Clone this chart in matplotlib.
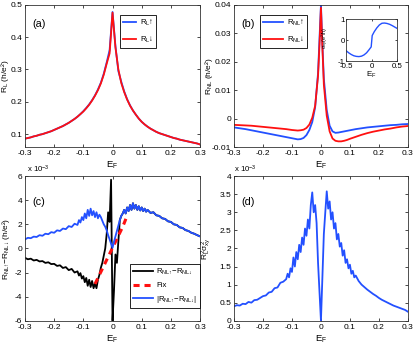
import numpy as np
import matplotlib
matplotlib.use('Agg')
import matplotlib.pyplot as plt
from matplotlib.ticker import FormatStrFormatter

plt.rcParams['font.family'] = ['Liberation Sans', 'DejaVu Sans']
plt.rcParams['axes.unicode_minus'] = False
plt.rcParams['mathtext.fontset'] = 'custom'
plt.rcParams['mathtext.rm'] = 'Liberation Sans'
plt.rcParams['mathtext.it'] = 'Liberation Sans'

BLUE = '#2350ff'
RED = '#ff1010'

# ---- panel (a) : R_L for spin up / down ----
E_a = [-0.30, -0.29, -0.28, -0.27, -0.26, -0.25, -0.24, -0.23, -0.22, -0.21,
       -0.20, -0.19, -0.18, -0.17, -0.16, -0.15, -0.14, -0.13, -0.12, -0.11,
       -0.10, -0.09, -0.08, -0.07, -0.06, -0.05, -0.04, -0.03, -0.02, -0.01,
       0.00, 0.01, 0.02, 0.03, 0.04, 0.05, 0.06, 0.07, 0.08, 0.09,
       0.10, 0.11, 0.12, 0.13, 0.14, 0.15, 0.16, 0.17, 0.18, 0.19,
       0.20, 0.21, 0.22, 0.23, 0.24, 0.25, 0.26, 0.27, 0.28, 0.29, 0.30]
RL_up = [0.086, 0.088, 0.090, 0.093, 0.095, 0.098, 0.100, 0.103, 0.106, 0.109,
         0.113, 0.117, 0.121, 0.125, 0.130, 0.135, 0.141, 0.147, 0.154, 0.162,
         0.171, 0.181, 0.192, 0.205, 0.220, 0.238, 0.259, 0.287, 0.322, 0.360,
         0.478, 0.372, 0.295, 0.262, 0.232, 0.208, 0.189, 0.173, 0.160, 0.148,
         0.138, 0.130, 0.123, 0.117, 0.112, 0.107, 0.103, 0.100, 0.097, 0.094,
         0.091, 0.088, 0.086, 0.083, 0.081, 0.079, 0.077, 0.075, 0.073, 0.071, 0.068]
RL_dn = [0.086, 0.088, 0.090, 0.093, 0.095, 0.098, 0.100, 0.103, 0.106, 0.109,
         0.113, 0.117, 0.121, 0.125, 0.130, 0.135, 0.141, 0.147, 0.154, 0.162,
         0.170, 0.180, 0.191, 0.204, 0.219, 0.236, 0.257, 0.284, 0.318, 0.350,
         0.476, 0.368, 0.300, 0.258, 0.230, 0.207, 0.188, 0.173, 0.160, 0.148,
         0.138, 0.130, 0.123, 0.117, 0.112, 0.107, 0.103, 0.100, 0.097, 0.094,
         0.091, 0.088, 0.086, 0.083, 0.081, 0.079, 0.077, 0.075, 0.073, 0.071, 0.068]

# ---- panel (b) : R_NL for spin up / down ----
E_b = [-0.30, -0.28, -0.26, -0.24, -0.22, -0.20, -0.18, -0.16, -0.14, -0.12,
       -0.10, -0.09, -0.08, -0.07, -0.06, -0.05, -0.04, -0.03, -0.02, -0.01,
       -0.005, 0.0, 0.005, 0.01, 0.02, 0.03, 0.04, 0.05, 0.06, 0.07,
       0.08, 0.09, 0.10, 0.12, 0.14, 0.16, 0.18, 0.20, 0.22, 0.24,
       0.26, 0.28, 0.30]
RNL_up = [-0.0031, -0.0034, -0.0037, -0.0041, -0.0045, -0.0049, -0.0053, -0.0057, -0.0061, -0.0065,
          -0.0069, -0.0071, -0.0073, -0.0072, -0.0068, -0.0058, -0.0040, -0.0012, 0.0040, 0.0160,
          0.0280, 0.0400, 0.0260, 0.0140, 0.0030, -0.0025, -0.0045, -0.0050, -0.0049, -0.0047,
          -0.0045, -0.0043, -0.0041, -0.0037, -0.0034, -0.0031, -0.0029, -0.0027, -0.0025, -0.0023,
          -0.0022, -0.0020, -0.0019]
RNL_dn = [-0.0022, -0.0023, -0.0024, -0.0025, -0.0027, -0.0029, -0.0031, -0.0033, -0.0035, -0.0037,
          -0.0040, -0.0041, -0.0042, -0.0041, -0.0039, -0.0033, -0.0021, 0.0003, 0.0045, 0.0150,
          0.0260, 0.0390, 0.0250, 0.0120, 0.0010, -0.0045, -0.0070, -0.0078, -0.0080, -0.0080,
          -0.0078, -0.0075, -0.0071, -0.0064, -0.0057, -0.0051, -0.0046, -0.0042, -0.0038, -0.0035,
          -0.0031, -0.0028, -0.0026]

# ---- inset of (b) : sigma_xy ----
E_in = [-0.5, -0.45, -0.4, -0.35, -0.3, -0.25, -0.2, -0.15, -0.1, -0.05, -0.01,
        0.0, 0.01, 0.05, 0.1, 0.15, 0.2, 0.25, 0.3, 0.35, 0.4, 0.45, 0.5]
sxy = [-0.50, -0.60, -0.68, -0.74, -0.77, -0.78, -0.76, -0.70, -0.60, -0.45, -0.32,
       -0.05, 0.22, 0.40, 0.58, 0.72, 0.80, 0.81, 0.79, 0.75, 0.69, 0.62, 0.55]

# ---- panels (c) and (d) share one energy grid ----
E_cd = [-0.30, -0.29, -0.28, -0.27, -0.26, -0.25, -0.24, -0.23, -0.22, -0.21,
        -0.20, -0.19, -0.18, -0.17, -0.16, -0.15, -0.14, -0.13,
        -0.120, -0.115, -0.110, -0.105, -0.100, -0.095, -0.090, -0.085, -0.080, -0.075,
        -0.070, -0.065, -0.060, -0.055, -0.050, -0.045, -0.040, -0.035, -0.030, -0.025,
        -0.020, -0.015, -0.010, -0.005, 0.000, 0.005, 0.010, 0.015, 0.020, 0.025,
        0.030, 0.035, 0.040, 0.045, 0.050, 0.055, 0.060, 0.065, 0.070, 0.075,
        0.080, 0.085, 0.090, 0.095, 0.100, 0.105, 0.110, 0.115, 0.120,
        0.13, 0.14, 0.15, 0.16, 0.17, 0.18, 0.19, 0.20, 0.21, 0.22,
        0.23, 0.24, 0.25, 0.26, 0.27, 0.28, 0.29, 0.30]

# R_NL_up - R_NL_down, in units of 1e-3
dR = [-0.78, -0.90, -0.85, -1.00, -0.95, -1.08, -1.05, -1.20, -1.15, -1.30,
      -1.28, -1.45, -1.40, -1.62, -1.55, -1.80, -1.70, -2.00,
      -1.90, -2.25, -2.05, -2.50, -2.30, -2.80, -2.45, -3.10, -2.60, -3.20,
      -2.70, -3.30, -2.90, -3.30, -2.60, -2.20, -1.60, -1.20, -0.60, 0.00,
      1.20, 3.00, 2.20, 5.70, -6.00, -3.50, -0.50, -1.20, 0.60, 2.35,
      2.70, 2.90, 3.20, 2.90, 3.40, 3.10, 3.60, 3.20, 3.75, 3.30,
      3.60, 3.20, 3.50, 3.15, 3.40, 3.10, 3.30, 3.05, 3.20,
      2.95, 3.00, 2.75, 2.70, 2.50, 2.45, 2.25, 2.20, 2.00, 1.95,
      1.75, 1.70, 1.52, 1.45, 1.30, 1.22, 1.10, 1.00]
# |R_NL_up - R_NL_down|, in units of 1e-3
dR_abs = [0.75, 0.88, 0.85, 0.98, 0.95, 1.10, 1.05, 1.22, 1.18, 1.35,
          1.30, 1.50, 1.45, 1.65, 1.60, 1.85, 1.78, 2.05,
          1.95, 2.35, 2.15, 2.60, 2.35, 2.90, 2.50, 3.20, 2.70, 3.30,
          2.75, 3.10, 2.60, 3.00, 2.50, 2.80, 2.60, 2.30, 2.00, 1.80,
          1.50, 1.10, 0.75, 0.40, 0.05, 0.55, 1.00, 1.45, 1.90, 2.35,
          2.70, 2.90, 3.20, 2.90, 3.40, 3.10, 3.60, 3.20, 3.75, 3.30,
          3.60, 3.20, 3.50, 3.15, 3.40, 3.10, 3.30, 3.05, 3.20,
          2.95, 3.00, 2.75, 2.70, 2.50, 2.45, 2.25, 2.20, 2.00, 1.95,
          1.75, 1.70, 1.52, 1.45, 1.30, 1.22, 1.10, 1.00]

E_fix = [-0.06, -0.05, -0.04, -0.03, -0.02, -0.01, 0.0, 0.01, 0.02, 0.03, 0.04, 0.048]
fix = [-2.95, -2.45, -1.95, -1.45, -0.95, -0.45, 0.05, 0.55, 1.05, 1.55, 2.10, 2.60]

# R_L^2 sigma_xy^2, in units of 1e-3
RLsxy = [0.40, 0.43, 0.42, 0.47, 0.46, 0.52, 0.50, 0.57, 0.58, 0.63,
         0.68, 0.70, 0.78, 0.80, 0.90, 0.92, 1.05, 1.08,
         1.15, 1.30, 1.20, 1.45, 1.35, 1.75, 1.50, 1.90, 1.70, 2.10,
         1.90, 2.30, 2.10, 2.55, 2.35, 2.80, 2.55, 3.20, 3.55, 3.00,
         3.20, 2.70, 1.60, 0.80, 0.00, 1.20, 2.40, 3.00, 3.58, 3.10,
         3.30, 2.80, 3.00, 2.55, 2.70, 2.25, 2.40, 2.05, 2.15, 1.80,
         1.95, 1.60, 1.70, 1.45, 1.55, 1.30, 1.38, 1.20, 1.25,
         1.10, 1.00, 0.93, 0.86, 0.80, 0.74, 0.69, 0.63, 0.58, 0.54,
         0.50, 0.46, 0.42, 0.39, 0.36, 0.33, 0.30, 0.25]

FS = 6.0
YFS = 6.0
LFS = 5.6
XT = [-0.3, -0.2, -0.1, 0, 0.1, 0.2, 0.3]
fig = plt.figure(figsize=(4.16, 3.46), dpi=100)


def style(ax, ylx):
    ax.tick_params(direction='in', top=True, right=True, labelsize=FS,
                   length=2.5, width=0.5, pad=2)
    for s in ax.spines.values():
        s.set_linewidth(0.6)
        s.set_color('#333333')
    ax.set_xlim(-0.3, 0.3)
    ax.set_xticks(XT)
    ax.xaxis.set_major_formatter(FormatStrFormatter('%g'))
    ax.yaxis.set_major_formatter(FormatStrFormatter('%g'))
    ax.set_xlabel(r'E$_\mathrm{F}$', fontsize=FS + 0.8)
    ax.xaxis.set_label_coords(0.5, -0.085)
    ax.yaxis.set_label_coords(ylx, 0.5)


def legend(ax, **kw):
    leg = ax.legend(fontsize=LFS, fancybox=False, edgecolor='black', framealpha=1,
                    borderpad=0.35, handletextpad=0.5, borderaxespad=0, **kw)
    leg.get_frame().set_linewidth(0.6)


# (a)
ax = fig.add_axes([0.060, 0.575, 0.421, 0.411])
ax.plot(E_a, RL_up, color=BLUE, lw=1.3, label=r'R$_\mathrm{L}$↑')
ax.plot(E_a, RL_dn, color=RED, lw=1.3, label=r'R$_\mathrm{L}$↓')
ax.set_ylim(0.06, 0.5)
ax.set_yticks([0.1, 0.2, 0.3, 0.4, 0.5])
ax.set_ylabel(r'R$_\mathrm{L}$ (h/e²)', fontsize=YFS)
ax.text(0.04, 0.83, '(a)', transform=ax.transAxes, fontsize=FS + 1.8, va='bottom')
legend(ax, loc='upper right', bbox_to_anchor=(0.75, 0.93), handlelength=1.7,
       labelspacing=0.9)
style(ax, -0.078)

# (b)
ax = fig.add_axes([0.5625, 0.575, 0.418, 0.411])
ax.plot(E_b, RNL_up, color=BLUE, lw=1.3, label=r'R$_\mathrm{NL}$↑')
ax.plot(E_b, RNL_dn, color=RED, lw=1.3, label=r'R$_\mathrm{NL}$↓')
ax.set_ylim(-0.01, 0.04)
ax.set_yticks([-0.01, 0, 0.01, 0.02, 0.03, 0.04])
ax.set_ylabel(r'R$_\mathrm{NL}$ (h/e²)', fontsize=YFS)
ax.text(0.04, 0.83, '(b)', transform=ax.transAxes, fontsize=FS + 1.8, va='bottom')
legend(ax, loc='upper left', bbox_to_anchor=(0.15, 0.93), handlelength=2.6,
       labelspacing=0.9)
style(ax, -0.11)

# inset
ins = fig.add_axes([0.832, 0.823, 0.123, 0.122])
ins.plot(E_in, sxy, color=BLUE, lw=1.0)
ins.set_xlim(-0.5, 0.5)
ins.set_ylim(-1, 1)
ins.set_xticks([-0.5, 0, 0.5])
ins.set_yticks([-1, 0, 1])
ins.xaxis.set_major_formatter(FormatStrFormatter('%g'))
ins.set_xlabel(r'E$_\mathrm{F}$', fontsize=FS - 0.3, labelpad=0)
ins.set_ylabel(r'$\sigma_\mathrm{xy}$(e²/h)', fontsize=FS - 2.0)
ins.yaxis.set_label_coords(-0.30, 0.55)
ins.tick_params(direction='in', top=True, right=True, labelsize=FS - 0.3,
                length=1.5, width=0.5, pad=1)
for s in ins.spines.values():
    s.set_linewidth(0.6)
    s.set_color('#333333')

# (c)
ax = fig.add_axes([0.060, 0.073, 0.421, 0.418])
ax.plot(E_cd, dR, color='black', lw=1.3, label=r'R$_\mathrm{NL↑}$$-$R$_\mathrm{NL↓}$')
ax.plot(E_fix, fix, color=RED, lw=2.2, ls=(0, (2, 1.6)), label='Fix')
ax.plot(E_cd, dR_abs, color=BLUE, lw=1.3, label=r'|R$_\mathrm{NL↑}$$-$R$_\mathrm{NL↓}$|')
ax.set_ylim(-6, 6)
ax.set_yticks([-6, -4, -2, 0, 2, 4, 6])
ax.set_ylabel(r'R$_\mathrm{NL↑}$$-$R$_\mathrm{NL↓}$ (h/e²)', fontsize=YFS)
ax.text(0.04, 0.786, '(c)', transform=ax.transAxes, fontsize=FS + 1.8, va='bottom')
ax.text(0.01, 1.005, r'x 10$^{-3}$', transform=ax.transAxes, fontsize=LFS, va='bottom')
legend(ax, loc='lower right', bbox_to_anchor=(1.0, 0.09), handlelength=2.5,
       labelspacing=0.6)
style(ax, -0.075)

# (d)
ax = fig.add_axes([0.5625, 0.073, 0.418, 0.418])
ax.plot(E_cd, RLsxy, color=BLUE, lw=1.3)
ax.set_ylim(0, 4)
ax.set_yticks([0, 0.5, 1, 1.5, 2, 2.5, 3, 3.5, 4])
ax.set_ylabel(r'R$^2_\mathrm{L}\sigma^2_\mathrm{xy}$', fontsize=YFS)
ax.text(0.04, 0.786, '(d)', transform=ax.transAxes, fontsize=FS + 1.8, va='bottom')
ax.text(0.0, 1.005, r'x 10$^{-3}$', transform=ax.transAxes, fontsize=LFS, va='bottom')
style(ax, -0.12)

fig.savefig('out.png', dpi=100)
